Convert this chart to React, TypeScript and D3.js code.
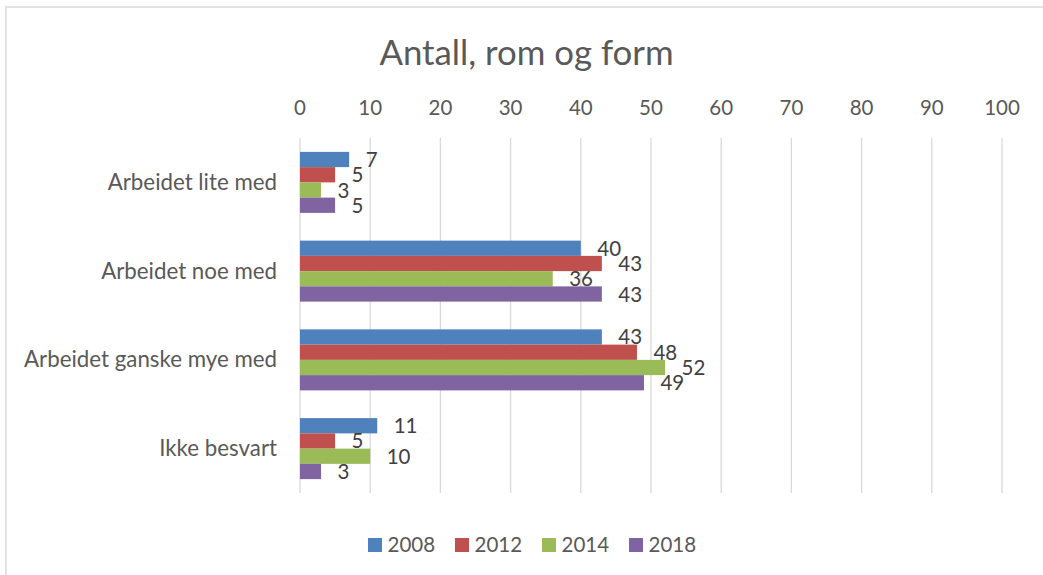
import React from "react";
import * as d3 from "d3";

const categories = ["Arbeidet lite med", "Arbeidet noe med", "Arbeidet ganske mye med", "Ikke besvart"];
const years = ["2008", "2012", "2014", "2018"];
const values2008 = [7, 40, 43, 11];
const values2012 = [5, 43, 48, 5];
const values2014 = [3, 36, 52, 10];
const values2018 = [5, 43, 49, 3];
const seriesValues = [values2008, values2012, values2014, values2018];
const colors = ["#4F81BD", "#C0504D", "#9BBB59", "#8064A2"];
const xTicks = [0, 10, 20, 30, 40, 50, 60, 70, 80, 90, 100];
const title = "Antall, rom og form";

const W = 1043;
const H = 575;
const FONT = "Lato, 'Open Sans', sans-serif";
const FS = 20.5;
const CAT_FS = 22.3;

export default function App() {
  const x = d3.scaleLinear().domain([0, 100]).range([300, 1002]);
  const y = d3.scaleBand<string>().domain(categories).range([138, 493]).padding(0);
  const step = y.bandwidth();
  const inner = d3
    .scaleBand<string>()
    .domain(years)
    .range([step * 0.1563, step * 0.8437])
    .padding(0);

  return (
    <svg
      width={W}
      height={H}
      style={{ position: "absolute", left: 0, top: 0, background: "#fff" }}
      fontFamily={FONT}
    >
      <rect x={6} y={7} width={W + 20} height={H + 20} fill="#fff" stroke="#d9d9d9" strokeWidth={1.5} />
      <text x={526.5} y={64.5} textAnchor="middle" fontSize={34.8} fill="#595959">
        {title}
      </text>
      {xTicks.map((t) => (
        <g key={t}>
          <line x1={x(t)} x2={x(t)} y1={138} y2={493} stroke="#d9d9d9" strokeWidth={1.3} />
          <text x={x(t)} y={115} textAnchor="middle" fontSize={FS} fill="#595959">
            {t}
          </text>
        </g>
      ))}
      {categories.map((c) => (
        <text key={c} x={277} y={(y(c) as number) + step / 2 + 7.5} textAnchor="end" fontSize={CAT_FS} fill="#595959">
          {c}
        </text>
      ))}
      {categories.map((c, ci) => (
        <g key={c} transform={`translate(0,${y(c)})`}>
          {years.map((yr, si) => {
            const v = seriesValues[si][ci];
            const by = inner(yr) as number;
            const bh = inner.bandwidth();
            return (
              <g key={yr}>
                <rect x={x(0)} y={by} width={x(v) - x(0)} height={bh} fill={colors[si]} />
                <text x={x(v) + 16.5} y={by + bh / 2 + 7.5} fontSize={FS} fill="#404040">
                  {v}
                </text>
              </g>
            );
          })}
        </g>
      ))}
      {years.map((yr, i) => {
        const lx = 368 + i * 87;
        return (
          <g key={yr}>
            <rect x={lx} y={538} width={14} height={14} fill={colors[i]} />
            <text x={lx + 19.5} y={552} fontSize={FS} fill="#595959">
              {yr}
            </text>
          </g>
        );
      })}
    </svg>
  );
}
